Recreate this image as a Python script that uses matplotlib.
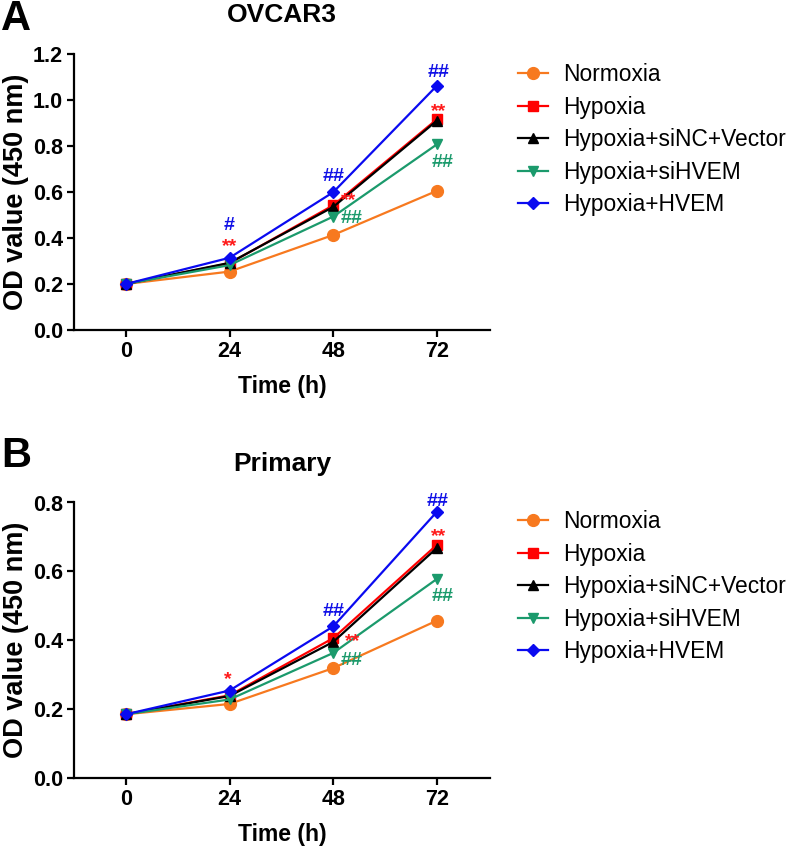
import matplotlib
matplotlib.use('Agg')
import matplotlib.pyplot as plt

plt.rcParams['font.family'] = ['Liberation Sans', 'DejaVu Sans']

# data ------------------------------------------------------------
time_h = [0, 24, 48, 72]
groups = ['Normoxia', 'Hypoxia', 'Hypoxia+siNC+Vector', 'Hypoxia+siHVEM', 'Hypoxia+HVEM']

ovcar3_normoxia = [0.200, 0.254, 0.413, 0.605]
ovcar3_hypoxia = [0.200, 0.290, 0.542, 0.916]
ovcar3_sinc_vector = [0.200, 0.292, 0.535, 0.910]
ovcar3_sihvem = [0.200, 0.282, 0.493, 0.807]
ovcar3_hvem = [0.200, 0.314, 0.599, 1.062]

primary_normoxia = [0.185, 0.215, 0.319, 0.457]
primary_hypoxia = [0.185, 0.240, 0.406, 0.677]
primary_sinc_vector = [0.185, 0.238, 0.395, 0.668]
primary_sihvem = [0.185, 0.228, 0.363, 0.578]
primary_hvem = [0.185, 0.254, 0.440, 0.773]

# significance marks: (text, group index, x, baseline y)
ovcar3_marks = [('#', 4, 24, 0.435), ('**', 1, 24, 0.343),
                ('##', 4, 48, 0.648), ('**', 1, 51.5, 0.543), ('##', 3, 52.3, 0.465),
                ('##', 4, 72.4, 1.10), ('**', 1, 72.3, 0.93), ('##', 3, 73.3, 0.709)]
primary_marks = [('*', 1, 23.6, 0.272),
                 ('##', 4, 48, 0.469), ('**', 1, 52.4, 0.383), ('##', 3, 52.2, 0.329),
                 ('##', 4, 72.2, 0.790), ('**', 1, 72.3, 0.688), ('##', 3, 73.3, 0.513)]

colors = ['#F7791F', '#FF0000', '#000000', '#1B9A6C', '#0A0AF0']
mark_colors = ['#F7791F', '#FF1A1A', '#000000', '#1B9A6C', '#1010E6']
markers = ['o', 's', '^', 'v', 'D']
msizes = [8.5, 7.5, 7.5, 7.5, 6]

W, H = 787, 846
fig = plt.figure(figsize=(W / 100, H / 100), dpi=100)


def panel(rect, series, ymax, title, letter, marks, legend_top):
    ax = fig.add_axes(rect)
    lines = []
    for i, vals in enumerate(series):
        ln, = ax.plot(time_h, vals, color=colors[i], marker=markers[i],
                      markersize=msizes[i], linewidth=1.6, label=groups[i])
        lines.append(ln)
    for txt, gi, x, y in marks:
        ax.text(x, y, txt, color=mark_colors[gi], fontsize=14, fontweight='bold',
                ha='center', va='baseline')
    ax.set_xlim(-12, 84.3)
    ax.set_ylim(0, ymax)
    ax.set_xticks(time_h)
    ax.set_yticks([v / 10 for v in range(0, int(round(ymax * 10)) + 1, 2)])
    ax.set_yticklabels(['%.1f' % (v / 10) for v in range(0, int(round(ymax * 10)) + 1, 2)])
    for s in ['top', 'right']:
        ax.spines[s].set_visible(False)
    for s in ['left', 'bottom']:
        ax.spines[s].set_linewidth(1.6)
    ax.tick_params(width=1.6, length=5, labelsize=15.5, pad=3)
    for lab in ax.get_xticklabels() + ax.get_yticklabels():
        lab.set_fontweight('bold')
    ax.set_xlabel('Time (h)', fontsize=16.5, fontweight='bold', labelpad=9)
    ax.set_ylabel('OD value (450 nm)', fontsize=19.5, fontweight='bold', labelpad=3)
    ax.set_title(title, fontsize=19, fontweight='bold', pad=23)
    fig.text(1 / W, 1 - letter / H, 'A' if title == 'OVCAR3' else 'B',
             fontsize=30, fontweight='bold', va='baseline', ha='left')
    fig.legend(handles=lines, loc='upper left', bbox_to_anchor=(518 / W, 1 - legend_top / H),
               frameon=False, fontsize=16.4, handlelength=1.3, handletextpad=0.7,
               labelspacing=0.42, borderpad=0, borderaxespad=0)
    return ax


panel([74 / W, 1 - 330 / H, 416 / W, 276 / H],
      [ovcar3_normoxia, ovcar3_hypoxia, ovcar3_sinc_vector, ovcar3_sihvem, ovcar3_hvem],
      1.2, 'OVCAR3', 30, ovcar3_marks, 63)
panel([74 / W, 1 - 778 / H, 416 / W, 275.5 / H],
      [primary_normoxia, primary_hypoxia, primary_sinc_vector, primary_sihvem, primary_hvem],
      0.8, 'Primary', 467, primary_marks, 510)

fig.savefig('out.png', dpi=100)
